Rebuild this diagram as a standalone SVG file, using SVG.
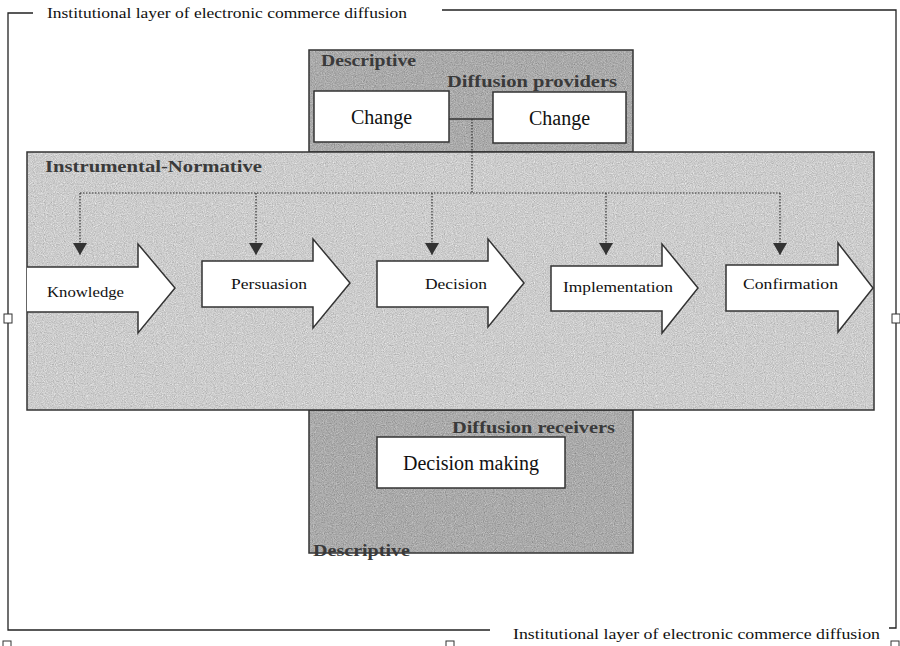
<svg xmlns="http://www.w3.org/2000/svg" width="900" height="646" viewBox="0 0 900 646">
<defs>
<filter id="grain" x="0" y="0" width="100%" height="100%" color-interpolation-filters="sRGB">
<feTurbulence type="fractalNoise" baseFrequency="0.9" numOctaves="2" seed="7" result="n"/>
<feColorMatrix in="n" type="matrix" values="0.33 0.33 0.33 0 0  0.33 0.33 0.33 0 0  0.33 0.33 0.33 0 0  0 0 0 0 1" result="g"/>
<feComposite in="SourceGraphic" in2="g" operator="arithmetic" k1="0" k2="1" k3="0.55" k4="-0.27"/>
</filter>
<marker id="tri" viewBox="0 0 12 14" refX="12" refY="7" markerWidth="12" markerHeight="14" markerUnits="userSpaceOnUse" orient="auto">
<path d="M0,0 L12,7 L0,14 Z" fill="#333"/>
</marker>
</defs>
<style>
.frame{fill:none;stroke:#222;stroke-width:1.3}
.box{stroke:#333;stroke-width:1.5}
.dark{fill:#a9a9a9}
.light{fill:#cbcbcb}
.white{fill:#fff;stroke:#333;stroke-width:1.5}
.lbl{font-family:"Liberation Serif",serif;font-weight:bold;font-size:17px;fill:#3a3a3a}
.t{font-family:"Liberation Serif",serif;fill:#111}
.big{font-size:20px}
.small{font-size:14px}
.inst{font-size:14px}
.dot{fill:none;stroke:#333;stroke-width:1.2;stroke-dasharray:1.5 1.5}
.solid{fill:none;stroke:#333;stroke-width:1.5}
.sq{fill:#fff;stroke:#333;stroke-width:1}
</style>
<rect width="900" height="646" fill="#fff"/>

<g id="institutional-frame">
<path class="frame" d="M33,13 H8 V630 H490"/>
<path class="frame" d="M442,10 H896 V628 H889"/>
<text class="t inst" x="47" y="18" textLength="360" lengthAdjust="spacingAndGlyphs">Institutional layer of electronic commerce diffusion</text>
<text class="t inst" x="513" y="639" textLength="367" lengthAdjust="spacingAndGlyphs">Institutional layer of electronic commerce diffusion</text>
<rect class="sq" x="4" y="314" width="8" height="9"/>
<rect class="sq" x="892" y="314" width="8" height="9"/>
<rect class="sq" x="3" y="641" width="8" height="8"/>
<rect class="sq" x="446" y="641" width="8" height="8"/>
<rect class="sq" x="891" y="641" width="8" height="8"/>
</g>

<g id="descriptive-providers">
<rect class="dark" x="309" y="50" width="324" height="102" filter="url(#grain)"/>
<rect class="box" fill="none" x="309" y="50" width="324" height="102"/>
<text class="lbl" x="321" y="66" textLength="95" lengthAdjust="spacingAndGlyphs">Descriptive</text>
<text class="lbl" x="447" y="87" textLength="170" lengthAdjust="spacingAndGlyphs">Diffusion providers</text>
</g>

<g id="descriptive-receivers">
<rect class="dark" x="309" y="410" width="324" height="143" filter="url(#grain)"/>
<rect class="box" fill="none" x="309" y="410" width="324" height="143"/>
<text class="lbl" x="452" y="433" textLength="163" lengthAdjust="spacingAndGlyphs">Diffusion receivers</text>
<text class="lbl" x="313" y="556" textLength="97" lengthAdjust="spacingAndGlyphs">Descriptive</text>
</g>

<g id="instrumental-normative">
<rect class="light" x="27" y="152" width="847" height="258" filter="url(#grain)"/>
<rect class="box" fill="none" x="27" y="152" width="847" height="258"/>
<text class="lbl" x="45" y="172" textLength="217" lengthAdjust="spacingAndGlyphs">Instrumental-Normative</text>
</g>

<g id="change-1">
<rect class="white" x="314" y="91" width="135" height="51"/>
<text class="t big" x="381.5" y="124" text-anchor="middle">Change</text>
</g>
<g id="change-2">
<rect class="white" x="493" y="92" width="133" height="51"/>
<text class="t big" x="559.5" y="125" text-anchor="middle">Change</text>
</g>
<g id="decision-making">
<rect class="white" x="377" y="437" width="188" height="51"/>
<text class="t big" x="471" y="470" text-anchor="middle">Decision making</text>
</g>

<g id="knowledge">
<path class="white" d="M27,267 H138 V244 L175,288 L138,333 V312 H27"/>
<text class="t small" x="47" y="297" textLength="77" lengthAdjust="spacingAndGlyphs">Knowledge</text>
</g>
<g id="persuasion">
<path class="white" d="M202,261 H313 V239 L350,283 L313,328 V307 H202 Z"/>
<text class="t small" x="231" y="289" textLength="76" lengthAdjust="spacingAndGlyphs">Persuasion</text>
</g>
<g id="decision">
<path class="white" d="M377,261 H488 V239 L524,283 L488,327 V307 H377 Z"/>
<text class="t small" x="425" y="289" textLength="62" lengthAdjust="spacingAndGlyphs">Decision</text>
</g>
<g id="implementation">
<path class="white" d="M551,266 H662 V244 L698,288 L662,333 V311 H551 Z"/>
<text class="t small" x="563" y="292" textLength="110" lengthAdjust="spacingAndGlyphs">Implementation</text>
</g>
<g id="confirmation">
<path class="white" d="M726,265 H838 V243 L873,288 L838,332 V311 H726 Z"/>
<text class="t small" x="743" y="289" textLength="95" lengthAdjust="spacingAndGlyphs">Confirmation</text>
</g>

<g id="connectors">
<path class="solid" d="M449,119 H493"/>
<path class="dot" d="M472,119 V193"/>
<path class="dot" d="M80,193 H780"/>
<path class="dot" d="M80,193 V255" marker-end="url(#tri)"/>
<path class="dot" d="M256,193 V255" marker-end="url(#tri)"/>
<path class="dot" d="M432,193 V255" marker-end="url(#tri)"/>
<path class="dot" d="M606,193 V255" marker-end="url(#tri)"/>
<path class="dot" d="M780,193 V255" marker-end="url(#tri)"/>
</g>
</svg>
